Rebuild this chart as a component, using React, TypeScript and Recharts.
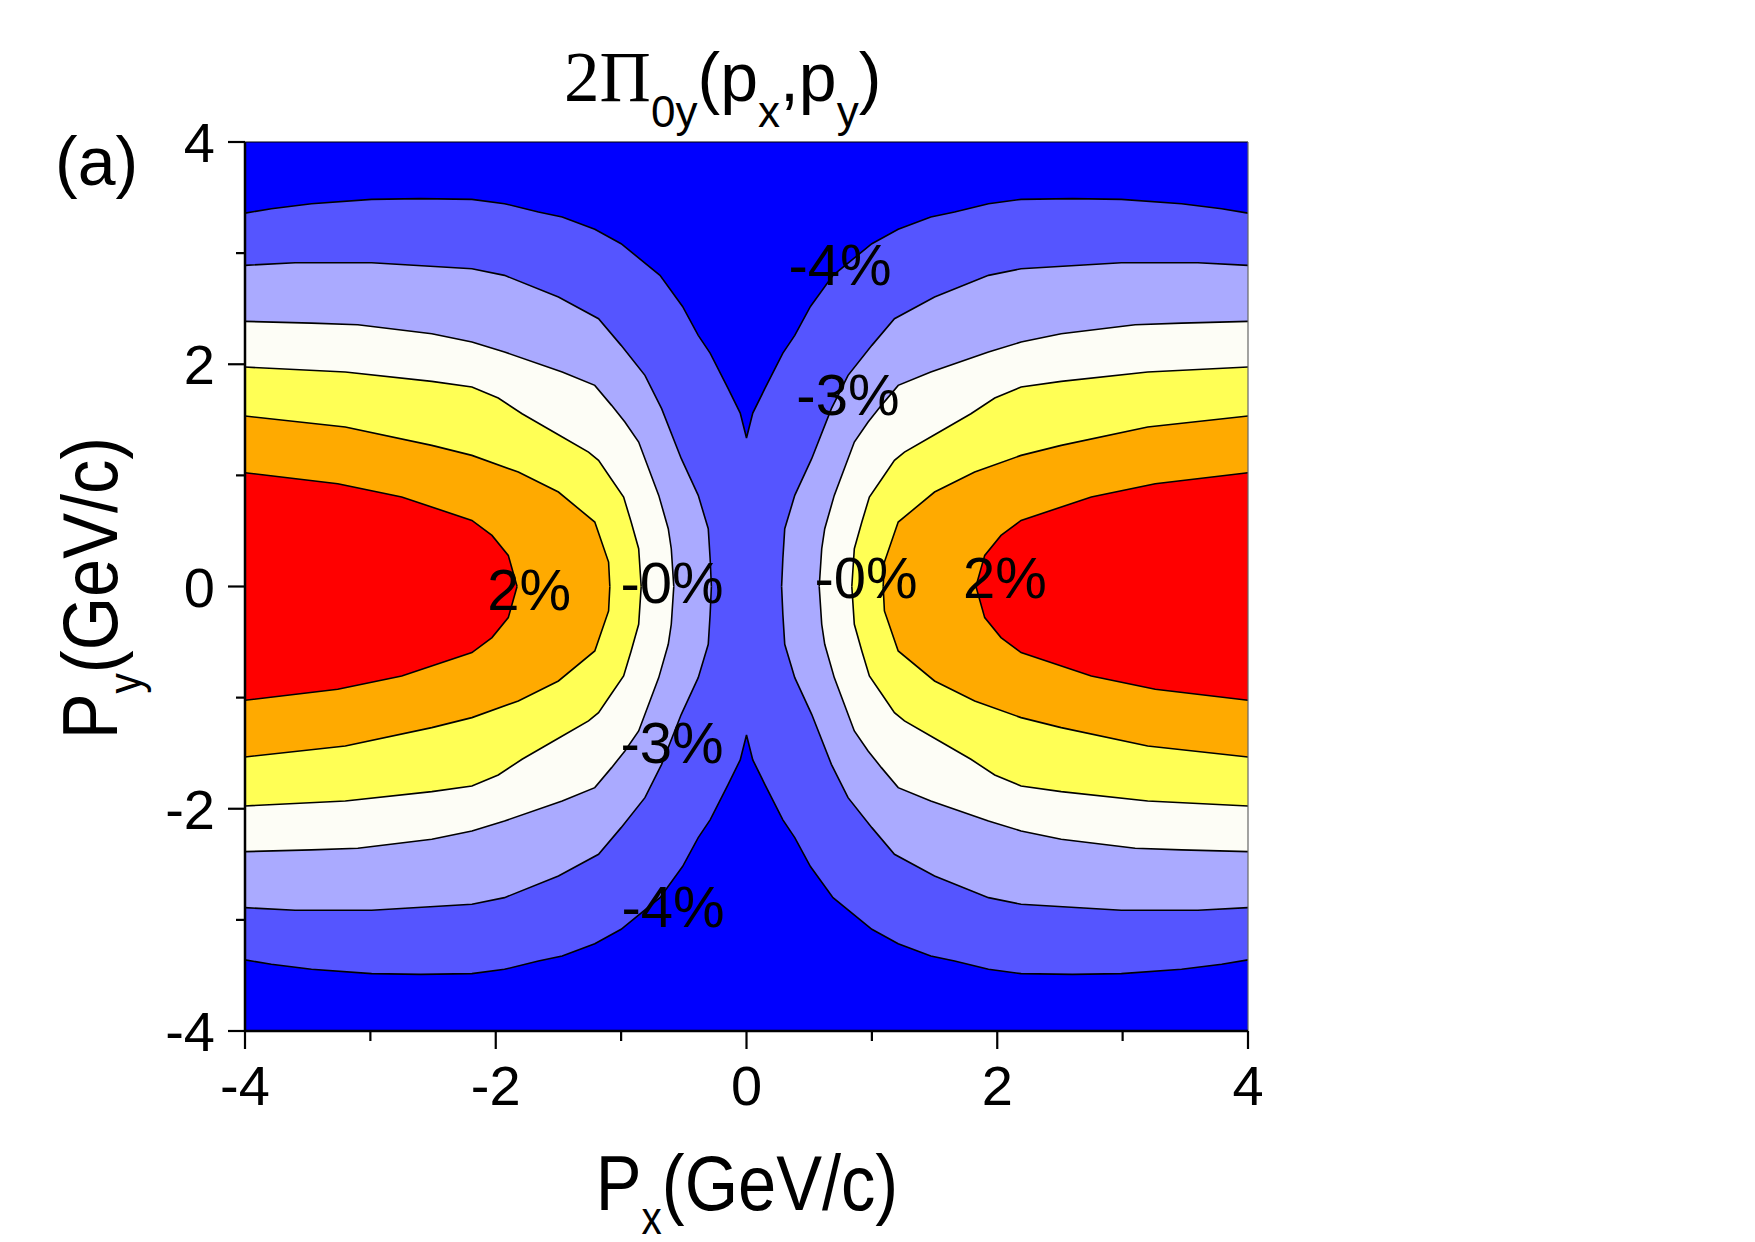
import React from 'react';
import { ComposedChart, Area, XAxis, YAxis, ReferenceLine, ReferenceDot } from 'recharts';

const SANS = '"Liberation Sans", Arial, Helvetica, sans-serif';
const SERIF = '"Liberation Serif", "Times New Roman", serif';

// Contour boundaries, upper-left quarter (px <= 0, py >= 0).
// The map is mirror-symmetric in px and py, so the other quarters follow.
const pxA = [-4, -3.79, -3.47, -2.99, -2.6, -2.19, -1.93, -1.66, -1.47, -1.21, -1.0, -0.69, -0.51, -0.385, -0.29, -0.146, -0.05, 0];
const pyA = [3.36, 3.4, 3.445, 3.484, 3.49, 3.484, 3.445, 3.37, 3.325, 3.214, 3.085, 2.8, 2.52, 2.26, 2.1, 1.78, 1.56, 1.336];

const pxB = [-4, -3.6, -2.99, -2.19, -1.93, -1.5, -1.18, -1.0, -0.81, -0.677, -0.52, -0.385, -0.305, -0.29, -0.28];
const pyB = [2.89, 2.914, 2.914, 2.86, 2.8, 2.605, 2.41, 2.17, 1.9, 1.6, 1.15, 0.82, 0.52, 0.25, 0];

const pxC = [-4, -3.47, -3.1, -2.51, -2.19, -1.93, -1.47, -1.21, -1.076, -0.97, -0.86, -0.7, -0.624, -0.6, -0.58];
const pyC = [2.386, 2.37, 2.356, 2.275, 2.2, 2.11, 1.93, 1.81, 1.63, 1.48, 1.3, 0.82, 0.52, 0.34, 0];

const pxD = [-4, -3.2, -2.51, -2.19, -1.98, -1.79, -1.5, -1.26, -1.18, -1.08, -0.98, -0.92, -0.86, -0.84];
const pyD = [1.975, 1.93, 1.846, 1.795, 1.696, 1.555, 1.366, 1.21, 1.135, 0.97, 0.805, 0.58, 0.34, 0];

const pxE = [-4, -3.2, -2.51, -2.19, -1.82, -1.5, -1.21, -1.1, -1.09];
const pyE = [1.534, 1.435, 1.27, 1.18, 1.03, 0.85, 0.58, 0.22, 0];

const pxF = [-4, -3.26, -2.75, -2.19, -2.03, -1.9, -1.83];
const pyF = [1.024, 0.925, 0.805, 0.595, 0.46, 0.28, 0];

// fill colours, lowest level first
const LEVEL_COLORS = ['#0000FF', '#5555FF', '#AAAAFF', '#FDFDF6', '#FFFF55', '#FFAA00', '#FF0000'];

const X_TICKS = [-4, -3, -2, -1, 0, 1, 2, 3, 4];
const Y_TICKS = [-4, -3, -2, -1, 0, 1, 2, 3, 4];

// contour labels, placed at (px, py) on the baseline
const LABELS = [
  { text: '-4%', px: 0.746, py: 2.714 },
  { text: '-3%', px: 0.809, py: 1.544 },
  { text: '-0%', px: 0.953, py: -0.104 },
  { text: '2%', px: 2.061, py: -0.104 },
  { text: '2%', px: -1.734, py: -0.212 },
  { text: '-0%', px: -0.594, py: -0.149 },
  { text: '-3%', px: -0.594, py: -1.589 },
  { text: '-4%', px: -0.586, py: -3.065 },
];

type Pt = { px: number; band: [number, number] };

const leftBand = (xs: number[], ys: number[]): Pt[] =>
  xs.map((x, i) => ({ px: x, band: [-ys[i], ys[i]] }));

const rightBand = (xs: number[], ys: number[]): Pt[] =>
  leftBand(xs, ys).map((p) => ({ px: -p.px, band: p.band })).reverse();

const backgroundBand: Pt[] = [
  { px: -4, band: [-4, 4] },
  { px: 4, band: [-4, 4] },
];

// the -4% level is one band running across the whole width
const bandA: Pt[] = [...leftBand(pxA, pyA), ...rightBand(pxA, pyA).slice(1)];

const sideLevels = [
  { key: 'B', xs: pxB, ys: pyB, color: LEVEL_COLORS[2] },
  { key: 'C', xs: pxC, ys: pyC, color: LEVEL_COLORS[3] },
  { key: 'D', xs: pxD, ys: pyD, color: LEVEL_COLORS[4] },
  { key: 'E', xs: pxE, ys: pyE, color: LEVEL_COLORS[5] },
  { key: 'F', xs: pxF, ys: pyF, color: LEVEL_COLORS[6] },
];

const XTick = (props: any) => {
  const { x, y, payload } = props;
  const major = payload.value % 2 === 0;
  return (
    <g>
      <line x1={x} x2={x} y1={y} y2={y + (major ? 18 : 10)} stroke="#000" strokeWidth={2.2} />
      {major && (
        <text x={x} y={y + 74} textAnchor="middle" fontSize={56} fontFamily={SANS} fill="#000">
          {payload.value}
        </text>
      )}
    </g>
  );
};

const YTick = (props: any) => {
  const { x, y, payload } = props;
  const major = payload.value % 2 === 0;
  return (
    <g>
      <line x1={x - (major ? 17 : 9)} x2={x} y1={y} y2={y} stroke="#000" strokeWidth={2.2} />
      {major && (
        <text x={x - 30} y={y} dy="0.36em" textAnchor="end" fontSize={56} fontFamily={SANS} fill="#000">
          {payload.value}
        </text>
      )}
    </g>
  );
};

export default function App() {
  const W = 1739;
  const H = 1226;
  const lineW = 1.6;
  return (
    <div style={{ position: 'relative', width: W, height: H, background: '#fff' }}>
      <ComposedChart width={W} height={H} margin={{ top: 134, right: 499, bottom: 103, left: 137 }}>
        <XAxis
          type="number"
          dataKey="px"
          domain={[-4, 4]}
          allowDataOverflow
          ticks={X_TICKS}
          interval={0}
          height={100}
          tickSize={0}
          tickMargin={0}
          tickLine={false}
          axisLine={{ stroke: '#000', strokeWidth: 2.5 }}
          tick={<XTick />}
        />
        <YAxis
          type="number"
          domain={[-4, 4]}
          allowDataOverflow
          ticks={Y_TICKS}
          interval={0}
          width={100}
          tickSize={0}
          tickMargin={0}
          tickLine={false}
          axisLine={{ stroke: '#000', strokeWidth: 2.5 }}
          tick={<YTick />}
        />
        <Area
          data={backgroundBand}
          dataKey="band"
          type="linear"
          stroke="none"
          fill={LEVEL_COLORS[0]}
          fillOpacity={1}
          dot={false}
          activeDot={false}
          isAnimationActive={false}
        />
        <Area
          data={bandA}
          dataKey="band"
          type="linear"
          stroke="#000"
          strokeWidth={lineW}
          fill={LEVEL_COLORS[1]}
          fillOpacity={1}
          dot={false}
          activeDot={false}
          isAnimationActive={false}
        />
        {sideLevels.flatMap((lv) => [
          <Area
            key={lv.key + 'L'}
            data={leftBand(lv.xs, lv.ys)}
            dataKey="band"
            type="linear"
            stroke="#000"
            strokeWidth={lineW}
            fill={lv.color}
            fillOpacity={1}
            dot={false}
            activeDot={false}
            isAnimationActive={false}
          />,
          <Area
            key={lv.key + 'R'}
            data={rightBand(lv.xs, lv.ys)}
            dataKey="band"
            type="linear"
            stroke="#000"
            strokeWidth={lineW}
            fill={lv.color}
            fillOpacity={1}
            dot={false}
            activeDot={false}
            isAnimationActive={false}
          />,
        ])}
        <ReferenceLine y={4} stroke="#000" strokeWidth={1.2} />
        <ReferenceLine x={4} stroke="#666" strokeWidth={1.2} />
        {LABELS.map((l, i) => (
          <ReferenceDot
            key={i}
            x={l.px}
            y={l.py}
            r={0}
            shape={(p: any) => (
              <text x={p.cx} y={p.cy} textAnchor="middle" fontSize={58} fontFamily={SANS} fill="#000">
                {l.text}
              </text>
            )}
          />
        ))}
      </ComposedChart>
      <svg
        width={W}
        height={H}
        style={{ position: 'absolute', left: 0, top: 0, pointerEvents: 'none', overflow: 'visible' }}
      >
        <text x={47} y={177} fontSize={68} fontFamily={SANS} fill="#000">
          (a)
        </text>
        <text x={556} y={93} fontSize={71} fontFamily={SERIF} fill="#000">
          2Π
        </text>
        <text x={643} y={93} fontSize={68} fontFamily={SANS} fill="#000">
          <tspan fontSize={44} dy={26}>0y</tspan>
          <tspan dy={-26}>(p</tspan>
          <tspan fontSize={44} dy={26}>x</tspan>
          <tspan dy={-26}>,p</tspan>
          <tspan fontSize={44} dy={26}>y</tspan>
          <tspan dy={-26}>)</tspan>
        </text>
        <text
          transform="translate(739,1202) scale(0.88,1)"
          textAnchor="middle"
          fontSize={78}
          fontFamily={SANS}
          fill="#000"
        >
          P<tspan fontSize={46} dy={24}>x</tspan>
          <tspan dy={-24}>(GeV/c)</tspan>
        </text>
        <text
          transform="translate(109,580) rotate(-90) scale(0.88,1)"
          textAnchor="middle"
          fontSize={78}
          fontFamily={SANS}
          fill="#000"
        >
          P<tspan fontSize={46} dy={24}>y</tspan>
          <tspan dy={-24}>(GeV/c)</tspan>
        </text>
      </svg>
    </div>
  );
}
